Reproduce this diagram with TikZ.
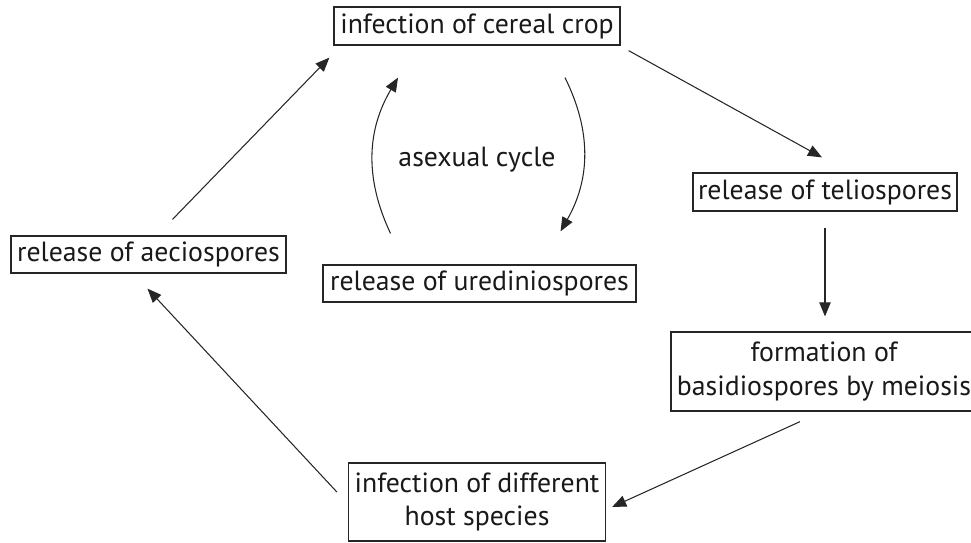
\documentclass[tikz,border=0pt]{standalone}
\usepackage{fontspec}
\setmainfont{PT Sans}
\usetikzlibrary{arrows.meta}
\begin{document}
\begin{tikzpicture}[
    x=0.02cm,
    y=-0.02cm,
    font=\fontsize{15.8}{19}\selectfont,
    block/.style={
      rectangle,
      draw=black!85,
      line width=0.7pt,
      text=black!90,
      align=center,
      inner sep=0pt,
      minimum height=38*0.02cm
    },
    arr/.style={
      -{Triangle[length=8pt,width=6.5pt]},
      line width=0.6pt,
      draw=black!85
    }]

    \useasboundingbox (0,0) rectangle (971,542);

    % cereal crop box
    \draw (477,26) node[block,minimum width=286*0.02cm] (cereal) {infection of cereal crop};
    % teliospores box
    \draw (825,192) node[block,minimum width=264*0.02cm] (telio) {release of teliospores};
    % basidiospores box
    \draw (824,371.5) node[
    block,
    minimum width=306*0.02cm,
    minimum height=79*0.02cm] (basid) {formation of\\basidiospores by meiosis};
    % other host box
    \draw (477,502) node[
    block,
    minimum width=257*0.02cm,
    minimum height=78*0.02cm] (host) {infection of different\\host species};
    % aeciospores box
    \draw (148.5,254.5) node[block,minimum width=275*0.02cm,minimum height=37*0.02cm] (aecio) {release of aeciospores};
    % urediniospores box
    \draw (479.5,283.5) node[block,minimum width=313*0.02cm,minimum height=37*0.02cm] (uredo) {release of urediniospores};
    % asexual label
    \node[text=black!90] (asex) at (477,160) {asexual cycle};

    % lines
    \draw[arr] ([shift={(24,-16)}]aecio.north) -- ([shift={(-4,12)}]cereal.south west);
    \draw[arr] ([shift={(8,5)}]cereal.south east) -- ([shift={(-3,-15)}]telio.north);
    \draw[arr] ([shift={(0,16)}]telio.south) -- ([shift={(1,-15)}]basid.north);
    \draw[arr] ([shift={(-24,10)}]basid.south) -- ([shift={(6,5)}]host.east);
    \draw[arr] ([shift={(-11,-10)}]host.west) -- ([shift={(-1,15)}]aecio.south);
    \draw[arr] ([shift={(-89,-31)}]uredo.north) to[bend left=28] ([shift={(-79,32)}]cereal.south);
    \draw[arr] ([shift={(88,32)}]cereal.south) to[bend left=28] ([shift={(81,-33)}]uredo.north);
  \end{tikzpicture}
\end{document}
